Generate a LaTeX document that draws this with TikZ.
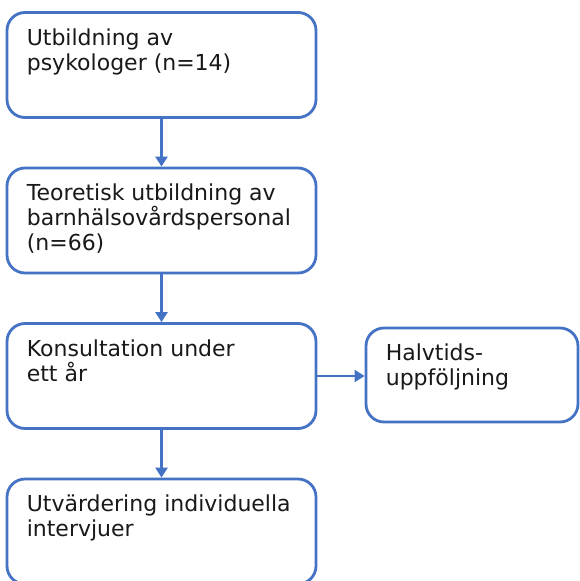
\documentclass[tikz,border=0pt]{standalone}
\usepackage{fontspec}
\setmainfont{DejaVu Sans}
\usetikzlibrary{arrows.meta,calc}
\definecolor{boxblue}{HTML}{4472C4}
\tikzset{
  flowbox/.style={draw=boxblue, line width=2.8pt, rounded corners=18pt, fill=white, inner sep=0pt},
  flowtext/.style={anchor=base west, inner sep=0pt, align=left, font=\fontsize{22}{25}\selectfont, text=black!90},
  flowarrow/.style={draw=boxblue, line width=2.6pt, -{Triangle[length=10pt,width=12pt]}}
}
\begin{document}
\begin{tikzpicture}[x=1pt,y=-1pt]
\useasboundingbox (0,0) rectangle (580,581);
\clip (0,0) rectangle (580,581);
\node[flowbox, minimum width=309pt, minimum height=105pt] (b1) at (161.5,65) {};
\node[flowbox, minimum width=309pt, minimum height=105pt] (b2) at (161.5,220.5) {};
\node[flowbox, minimum width=309pt, minimum height=105pt] (b3) at (161.5,376) {};
\node[flowbox, minimum width=309pt, minimum height=105pt] (b4) at (161.5,531.5) {};
\node[flowbox, minimum width=212pt, minimum height=94pt] (b5) at (472,375) {};
\node[flowtext] (t1) at ($(b1.north west)+(21,59)$) {Utbildning av\\psykologer (n=14)};
\node[flowtext] (t2) at ($(b2.north west)+(21,84)$) {Teoretisk utbildning av\\barnhälsovårdspersonal\\(n=66)};
\node[flowtext] (t3) at ($(b3.north west)+(21,59)$) {Konsultation under\\ett år};
\node[flowtext] (t4) at ($(b4.north west)+(21,59)$) {Utvärdering individuella\\intervjuer};
\node[flowtext] (t5) at ($(b5.north west)+(21,59)$) {Halvtids-\\uppföljning};
\draw[flowarrow] (b1.south) -- (b2.north);
\draw[flowarrow] (b2.south) -- (b3.north);
\draw[flowarrow] (b3.south) -- (b4.north);
\draw[flowarrow] (b3.east) -- (b3.east -| b5.west);
\end{tikzpicture}
\end{document}
